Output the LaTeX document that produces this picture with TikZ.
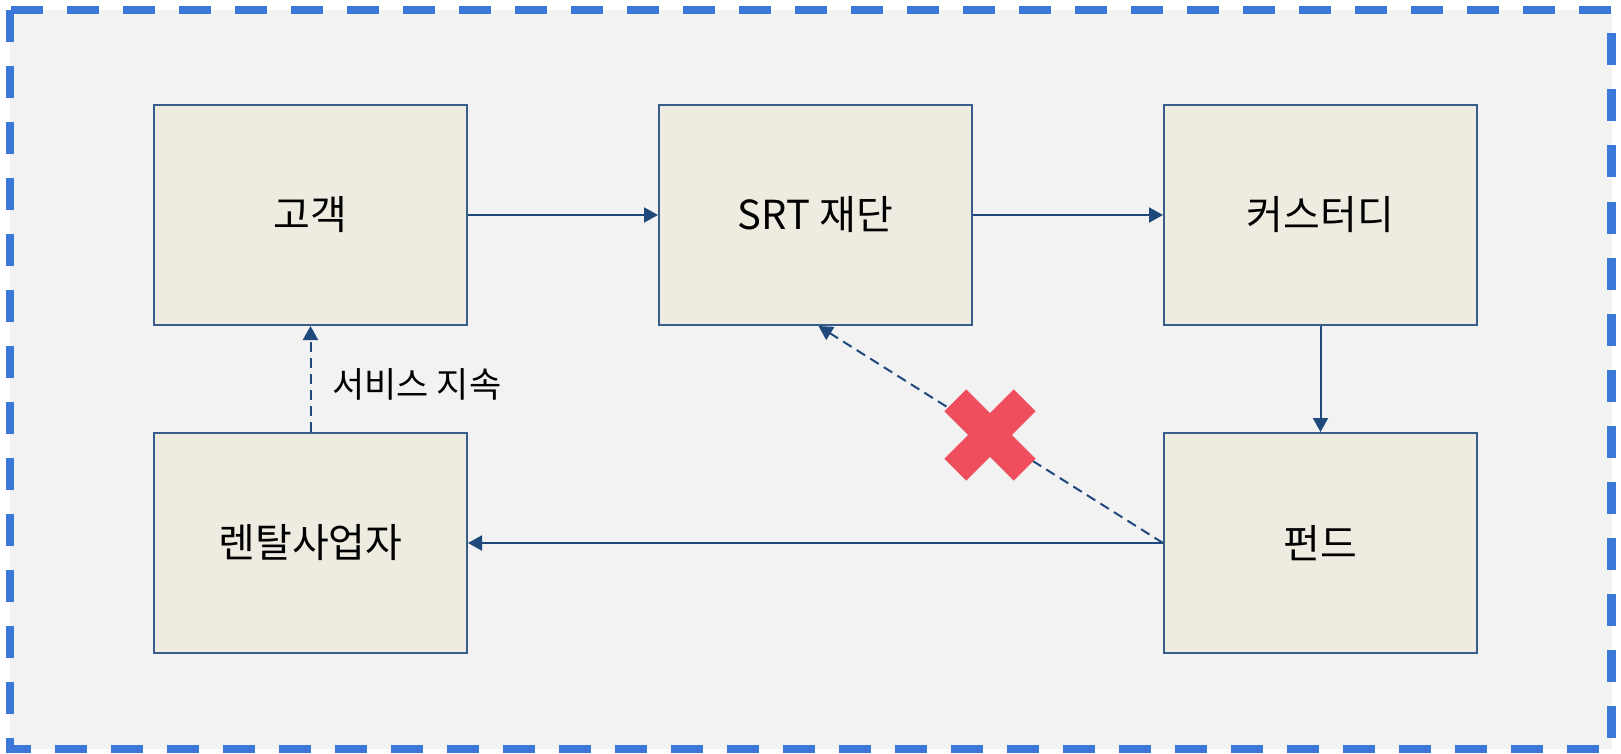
\documentclass[tikz,border=0pt]{standalone}
\usepackage{fontspec}
\usepackage{tikz}
\usetikzlibrary{arrows.meta}
\newfontfamily\krfont{Noto Sans CJK KR}

\definecolor{frameblue}{HTML}{3C78D8}
\definecolor{panelgray}{HTML}{F2F2F2}
\definecolor{boxfill}{HTML}{EEECE1}
\definecolor{boxline}{HTML}{385D8A}
\definecolor{flowline}{HTML}{1F497D}
\definecolor{crossred}{HTML}{EF4F5D}

\tikzset{
  entity/.style={draw=boxline, fill=boxfill, line width=2pt,
    minimum width=\bw, minimum height=\bh, inner sep=0pt,
    font=\krfont\fontsize{40}{46}\selectfont},
  flow/.style={draw=flowline, line width=2pt,
    -{Triangle[length=14pt,width=15pt]}},
  weakflow/.style={flow, dash pattern=on 10pt off 6pt}
}

\begin{document}
\begin{tikzpicture}[x=1pt,y=-1pt]
      % 상자 크기와 위치
      \def\bw{313pt}  % 상자 너비
      \def\bh{220pt}  % 상자 높이
      \def\cxa{310.5} \def\cxb{815.5} \def\cxc{1320.5}
      \def\rya{215}   \def\ryb{543}

      \useasboundingbox (0,0) rectangle (1621,754);

      % 바깥 점선 테두리
      \fill[panelgray] (10,10) rectangle (1611.5,749);
      \draw[frameblue, line width=8.5pt, dash pattern=on 32pt off 24pt]
        (10,10) rectangle (1611.5,749);

      % 상자들
      \node[entity] (gogaek)  at (\cxa,\rya) {고객};
      \node[entity] (srt)     at (\cxb,\rya) {SRT 재단};
      \node[entity] (custody) at (\cxc,\rya) {커스터디};
      \node[entity] (rental)  at (\cxa,\ryb) {렌탈사업자};
      \node[entity] (fund)    at (\cxc,\ryb) {펀드};

      % 흐름 화살표
      \draw[flow] (gogaek) -- (srt);
      \draw[flow] (srt) -- (custody);
      \draw[flow] (custody) -- (fund);
      \draw[flow] (fund) -- (rental);

      % 점선 화살표
      \draw[weakflow] (rental) -- (gogaek);
      \node[anchor=west, font=\krfont\fontsize{35}{40}\selectfont] (keep) at (329,384) {서비스 지속};
      \draw[weakflow] (fund.west) -- ([xshift=3pt]srt.south);

      % 빨간 X 표시
      \coordinate (cross) at (990,435);
      \fill[crossred, rotate around={45:(cross)}] (941,419.5) rectangle (1039,450.5);
      \fill[crossred, rotate around={-45:(cross)}] (941,419.5) rectangle (1039,450.5);
    \end{tikzpicture}
\end{document}
